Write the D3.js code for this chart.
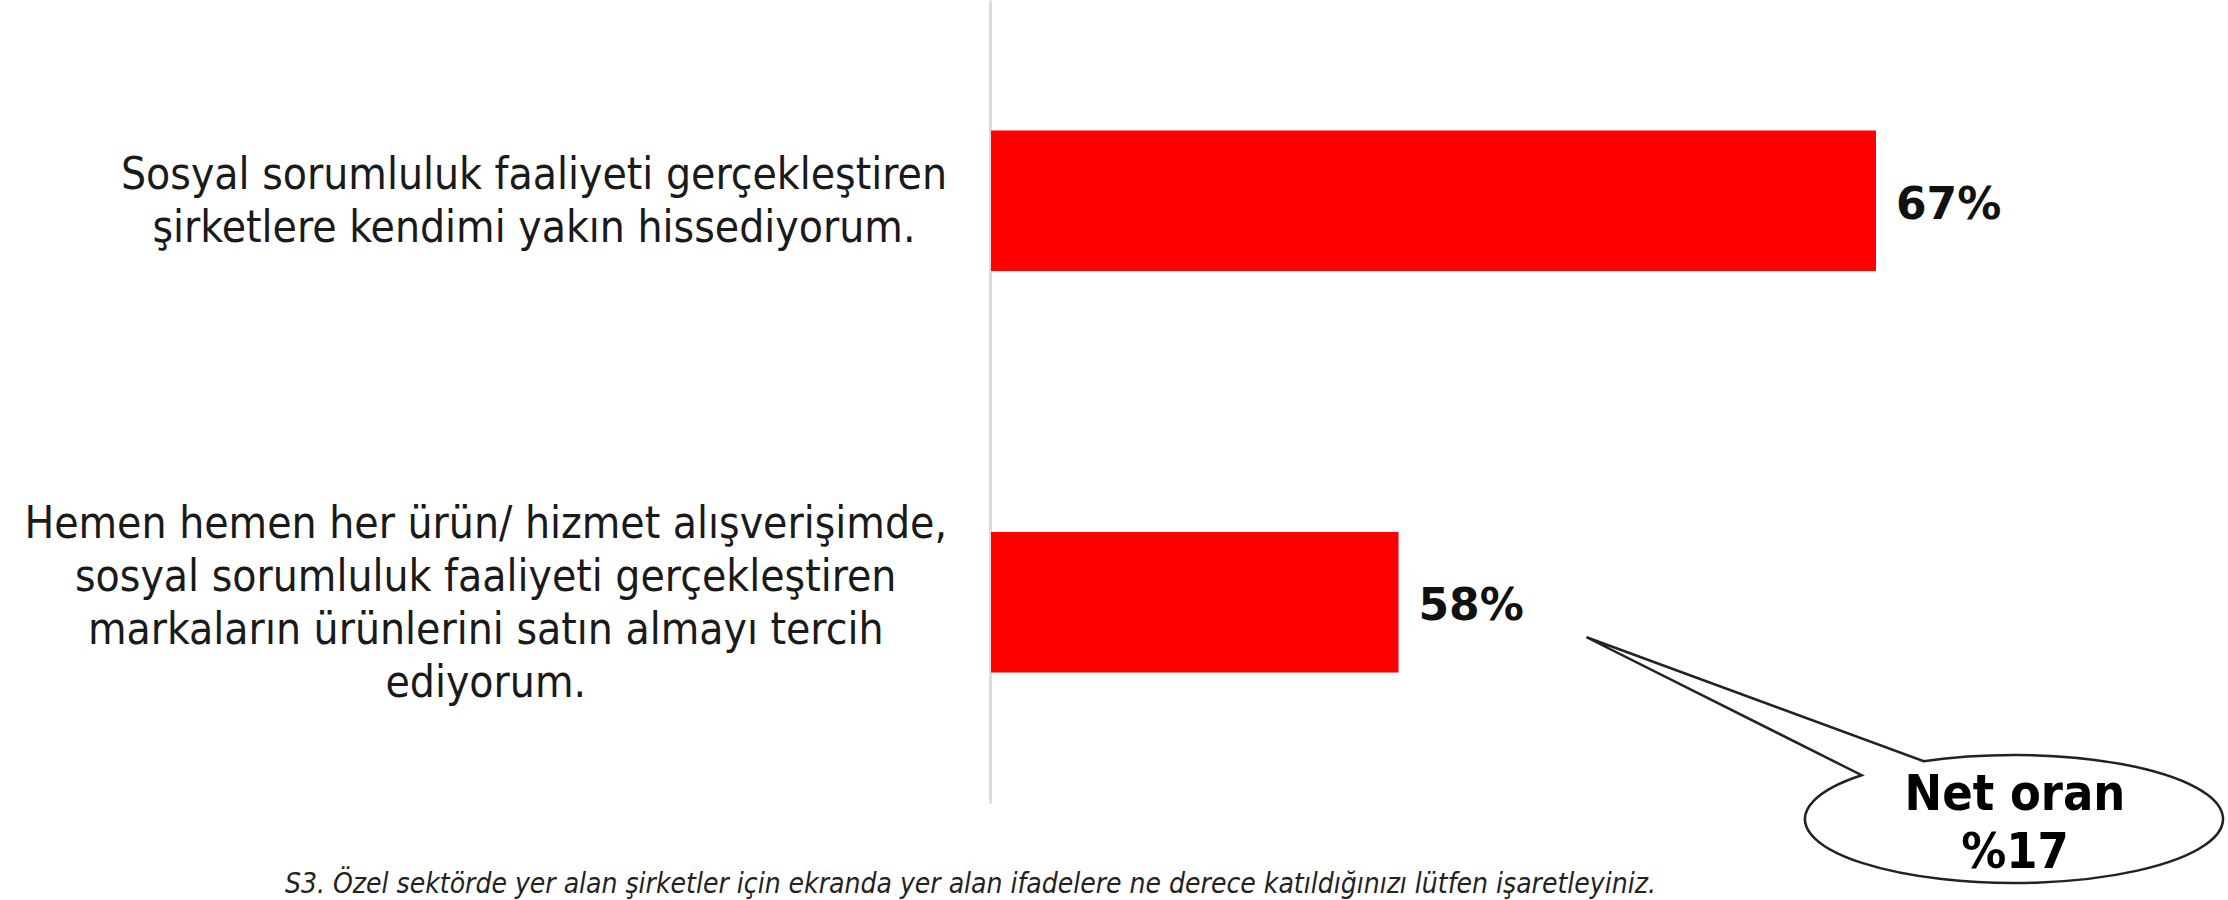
<!DOCTYPE html>
<html>
<head>
<meta charset="utf-8">
<script src="https://cdn.jsdelivr.net/npm/d3@7"></script>
<style>
    body { margin: 0; background: #fff; }
    svg { display: block; }
</style>
</head>
<body>
<div id="chart"></div>
<script>
// data
var categories = ["s1", "s2"];
var labelLines = [
    ["Sosyal sorumluluk faaliyeti gerçekleştiren",
     "şirketlere kendimi yakın hissediyorum."],
    ["Hemen hemen her ürün/ hizmet alışverişimde,",
     "sosyal sorumluluk faaliyeti gerçekleştiren",
     "markaların ürünlerini satın almayı tercih",
     "ediyorum."]
];
var values = [67, 58];
var valueLabels = ["67%", "58%"];
var axisDomain = [50.3, 70];
var calloutLines = ["Net oran", "%17"];
var footnote = "S3. Özel sektörde yer alan şirketler için ekranda yer alan ifadelere ne derece katıldığınızı lütfen işaretleyiniz.";

var width = 2228, height = 900;

var svg = d3.select("#chart")
    .append("svg")
    .attr("width", width)
    .attr("height", height);

// scales
var x = d3.scaleLinear()
    .domain(axisDomain)
    .range([990, 990 + (axisDomain[1] - axisDomain[0]) * 886 / (67 - axisDomain[0])]);

var y = d3.scaleBand()
    .domain(categories)
    .range([0, 803])
    .paddingInner(0.65)
    .paddingOuter(0.325);

// axis line (no ticks)
var yAxis = d3.axisLeft(y).tickSize(0).tickFormat("");
svg.append("g")
    .attr("class", "yAxis")
    .attr("transform", "translate(" + x(axisDomain[0]) + ",0)")
    .call(yAxis)
    .call(function (g) {
        g.select(".domain").attr("stroke", "#dcdcdc").attr("stroke-width", 3);
    });

// bars
svg.selectAll(".bar")
    .data(values)
    .enter()
    .append("rect")
    .attr("class", "bar")
    .attr("x", x(axisDomain[0]) + 1)
    .attr("y", function (d, i) { return y(categories[i]); })
    .attr("width", function (d) { return x(d) - x(axisDomain[0]) - 1; })
    .attr("height", y.bandwidth())
    .attr("fill", "#ff0000");

// value labels
svg.selectAll(".value")
    .data(values)
    .enter()
    .append("text")
    .attr("class", "value")
    .attr("x", function (d) { return x(d) + 20; })
    .attr("y", function (d, i) { return y(categories[i]) + y.bandwidth() / 2 + 18; })
    .attr("font-family", "DejaVu Sans")
    .attr("font-weight", "bold")
    .style("font-size", "44px")
    .attr("fill", "#111")
    .text(function (d, i) { return valueLabels[i]; });

// category labels: lines centred, block right-aligned
var labelRight = 947, lineH = 53;
labelLines.forEach(function (lines, i) {
    var cy = y(categories[i]) + y.bandwidth() / 2;
    var g = svg.append("g").attr("class", "cat-label");
    var t = g.selectAll("text")
        .data(lines)
        .enter()
        .append("text")
        .attr("font-family", "DejaVu Sans Condensed")
        .style("font-size", "44px")
        .attr("fill", "#1a1a1a")
        .attr("text-anchor", "middle")
        .attr("y", function (d, j) { return cy + (j - (lines.length - 1) / 2) * lineH + 15; })
        .text(function (d) { return d; });
    var maxW = d3.max(t.nodes(), function (n) { return n.getComputedTextLength(); });
    t.attr("x", labelRight - maxW / 2);
});

// callout bubble
var cx = 2014, cyB = 819, rx = 209, ry = 64;
var tip = [x(values[1]) + 188, y(categories[1]) + y.bandwidth() / 2 + 35];
var a1 = -115.6 * Math.PI / 180, a2 = -136.8 * Math.PI / 180;
var p1 = [cx + rx * Math.cos(a1), cyB + ry * Math.sin(a1)];
var p2 = [cx + rx * Math.cos(a2), cyB + ry * Math.sin(a2)];
var bubble = d3.path();
bubble.moveTo(tip[0], tip[1]);
bubble.lineTo(p1[0], p1[1]);
svg.append("path")
    .attr("d", bubble.toString() +
        " A" + rx + "," + ry + " 0 1 1 " + p2[0] + "," + p2[1] + " Z")
    .attr("fill", "#fff")
    .attr("stroke", "#222")
    .attr("stroke-width", 2.5)
    .attr("stroke-linejoin", "miter");

svg.selectAll(".callout")
    .data(calloutLines)
    .enter()
    .append("text")
    .attr("class", "callout")
    .attr("x", cx + 1)
    .attr("y", function (d, i) { return 810 + i * 58; })
    .attr("text-anchor", "middle")
    .attr("font-family", "DejaVu Sans Condensed")
    .attr("font-weight", "bold")
    .style("font-size", "50px")
    .attr("fill", "#000")
    .text(function (d) { return d; });

// footnote
svg.append("text")
    .attr("x", 285)
    .attr("y", 893)
    .attr("font-family", "DejaVu Sans Condensed")
    .attr("font-style", "italic")
    .style("font-size", "28px")
    .attr("fill", "#222")
    .text(footnote);
</script>
</body>
</html>
